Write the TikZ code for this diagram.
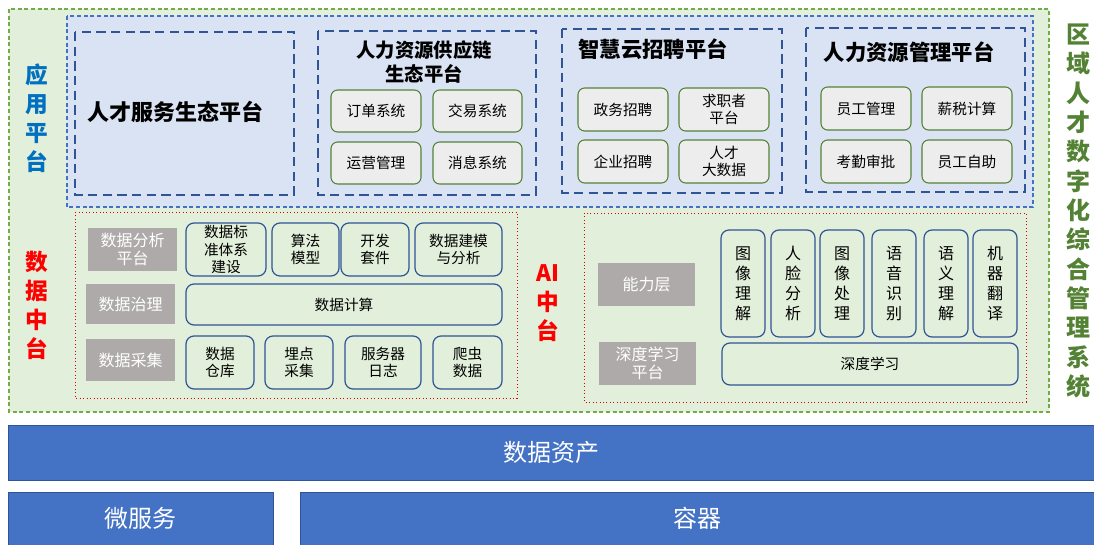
\documentclass[tikz,border=0pt]{standalone}
\usepackage{fontspec}
\setmainfont{Noto Sans CJK SC}
\usepackage{tikz}

\definecolor{bggreen}{HTML}{E2EFDA}
\definecolor{linegreen}{HTML}{70AD47}
\definecolor{darkgreen}{HTML}{548235}
\definecolor{bgblue}{HTML}{DAE3F3}
\definecolor{lineblue}{HTML}{4472C4}
\definecolor{darkblue}{HTML}{2F5597}
\definecolor{titleblue}{HTML}{0070C0}
\definecolor{boxgray}{HTML}{EDEDED}
\definecolor{labelgray}{HTML}{AEAAAA}

\tikzset{
  zone/.style={draw=linegreen,fill=bggreen,line width=0.9pt,dash pattern=on 3pt off 2pt},
  appzone/.style={draw=lineblue,fill=bgblue,line width=0.9pt,dash pattern=on 3pt off 2pt},
  platform/.style={draw=darkblue,line width=1.6pt,dash pattern=on 7pt off 4pt},
  redzone/.style={draw=red!85!black,line width=0.6pt,dotted},
  sysbox/.style={draw=darkgreen,fill=boxgray,rounded corners=5pt,line width=0.8pt},
  modbox/.style={draw=darkblue,fill=bggreen,rounded corners=6pt,line width=0.9pt},
  graylabel/.style={draw=none,fill=labelgray},
  bar/.style={draw=darkblue,fill=lineblue,line width=0.6pt},
  txt/.style={font=\fontsize{11}{13}\selectfont,align=center},
  graytxt/.style={font=\fontsize{12}{13.5}\selectfont,align=center,text=white},
  vtxt/.style={font=\fontsize{12}{15}\selectfont,align=center},
  bartxt/.style={font=\fontsize{18}{20}\selectfont,text=white},
  ptitle/.style={font=\bfseries\fontsize{16}{18}\selectfont,align=center},
  sidetitle/.style={font=\bfseries\fontsize{17}{21.75}\selectfont,align=center}
}

\begin{document}
\begin{tikzpicture}[x=0.75pt,y=-0.75pt]
\useasboundingbox (0,0) rectangle (1094,545);

% outer frame
\draw[zone] (9,9) rectangle (1049,412);
\node[sidetitle,text=darkgreen,font=\bfseries\fontsize{18}{22}\selectfont] (sysname) at (1078,211)
  {区\\域\\人\\才\\数\\字\\化\\综\\合\\管\\理\\系\\统};

% application layer
\draw[appzone] (67,16) rectangle (1033,207);
\node[sidetitle,text=titleblue] (apptitle) at (37,118) {应\\用\\平\\台};

\draw[platform] (75,32) rectangle (294,195);
\node[ptitle,font=\bfseries\fontsize{16.5}{18}\selectfont] (talent) at (175,112) {人才服务生态平台};

\draw[platform] (318,31) rectangle (536,195);
\node[ptitle,font=\bfseries\fontsize{14.5}{18}\selectfont] (supply) at (424,62) {人力资源供应链\\生态平台};
\draw[sysbox] (331,90) rectangle node[txt] (order) {订单系统} (421,132);
\draw[sysbox] (433,90) rectangle node[txt] (trade) {交易系统} (522,132);
\draw[sysbox] (331,142) rectangle node[txt] (operate) {运营管理} (421,184);
\draw[sysbox] (433,142) rectangle node[txt] (message) {消息系统} (522,184);

\draw[platform] (562,29) rectangle (782,193);
\node[ptitle] (recruit) at (653,49) {智慧云招聘平台};
\draw[sysbox] (578,88) rectangle node[txt] (gov) {政务招聘} (668,131);
\draw[sysbox] (679,88) rectangle node[txt] (seeker) {求职者\\平台} (769,131);
\draw[sysbox] (578,140) rectangle node[txt] (firm) {企业招聘} (668,183);
\draw[sysbox] (679,140) rectangle node[txt] (bigdata) {人才\\大数据} (769,183);

\draw[platform] (806,28) rectangle (1025,192);
\node[ptitle] (hrm) at (909,52) {人力资源管理平台};
\draw[sysbox] (821,87) rectangle node[txt] (staff) {员工管理} (911,130);
\draw[sysbox] (922,87) rectangle node[txt] (salary) {薪税计算} (1012,130);
\draw[sysbox] (821,140) rectangle node[txt] (attend) {考勤审批} (911,183);
\draw[sysbox] (922,140) rectangle node[txt] (selfserv) {员工自助} (1012,183);

% data middle platform
\node[sidetitle,text=red] (datatitle) at (37,305) {数\\据\\中\\台};
\draw[redzone] (75,212) rectangle (517,398);
\fill[graylabel] (88,228) rectangle node[graytxt] (analysis) {数据分析\\平台} (177,271);
\fill[graylabel] (86,284) rectangle node[graytxt] (govern) {数据治理} (175,324);
\fill[graylabel] (86,339) rectangle node[graytxt] (collect) {数据采集} (175,381);

\draw[modbox] (186,223) rectangle node[txt] (standard) {数据标\\准体系\\建设} (266,276);
\draw[modbox] (272,223) rectangle node[txt] (algo) {算法\\模型} (339,276);
\draw[modbox] (341,223) rectangle node[txt] (devkit) {开发\\套件} (409,276);
\draw[modbox] (415,223) rectangle node[txt] (model) {数据建模\\与分析} (502,276);
\draw[modbox] (186,284) rectangle node[txt] (compute) {数据计算} (502,325);
\draw[modbox] (186,336) rectangle node[txt] (warehouse) {数据\\仓库} (254,389);
\draw[modbox] (265,336) rectangle node[txt] (tracking) {埋点\\采集} (333,389);
\draw[modbox] (345,336) rectangle node[txt] (serverlog) {服务器\\日志} (421,389);
\draw[modbox] (433,336) rectangle node[txt] (crawler) {爬虫\\数据} (502,389);

% AI middle platform
\node[sidetitle,text=red] (aititle) at (548,303) {AI\\中\\台};
\draw[redzone] (584,213) rectangle (1026,402);
\fill[graylabel] (598,263) rectangle node[graytxt] (ability) {能力层} (695,306);
\fill[graylabel] (599,342) rectangle node[graytxt] (dlplat) {深度学习\\平台} (696,385);

\draw[modbox] (721,230) rectangle node[vtxt] (imgund) {图\\像\\理\\解} (765,337);
\draw[modbox] (771,230) rectangle node[vtxt] (face) {人\\脸\\分\\析} (815,337);
\draw[modbox] (820,230) rectangle node[vtxt] (imgproc) {图\\像\\处\\理} (864,337);
\draw[modbox] (872,230) rectangle node[vtxt] (speech) {语\\音\\识\\别} (916,337);
\draw[modbox] (924,230) rectangle node[vtxt] (semantic) {语\\义\\理\\解} (968,337);
\draw[modbox] (973,230) rectangle node[vtxt] (translate) {机\\器\\翻\\译} (1017,337);
\draw[modbox] (722,343) rectangle node[txt] (deeplearn) {深度学习} (1018,385);

% base bars
\draw[bar] (8,425) rectangle node[bartxt] (assets) {数据资产} (1094,480);
\draw[bar] (8,492) rectangle node[bartxt] (micro) {微服务} (273,545);
\draw[bar] (300,492) rectangle node[bartxt] (container) {容器} (1094,545);
\end{tikzpicture}
\end{document}
